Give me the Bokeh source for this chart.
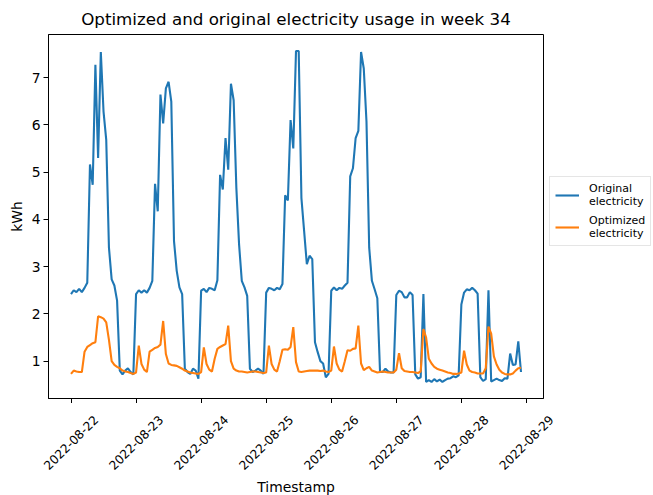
from math import pi

import pandas as pd
from bokeh.embed import file_html
from bokeh.layouts import column, row
from bokeh.models import (ColumnDataSource, DatetimeAxis, FixedTicker, Legend, LegendItem,
                          Range1d)
from bokeh.plotting import figure
from bokeh.resources import INLINE

# Hourly electricity usage (kWh), one list per day, starting 2022-08-22 00:00
orig_0822 = [2.42, 2.50, 2.46, 2.53, 2.46, 2.55, 2.66, 5.16, 4.73, 7.27, 5.30, 7.54,
             6.28, 5.68, 3.40, 2.73, 2.60, 2.28, 0.80, 0.72, 0.80, 0.85, 0.77, 0.72]
orig_0823 = [2.42, 2.50, 2.45, 2.50, 2.45, 2.55, 2.70, 4.75, 4.17, 6.64, 6.03, 6.77,
             6.91, 6.49, 3.54, 2.91, 2.56, 2.42, 0.84, 0.77, 0.73, 0.84, 0.80, 0.63]
orig_0824 = [2.49, 2.53, 2.46, 2.55, 2.53, 2.50, 2.71, 4.94, 4.63, 5.72, 5.05, 6.87,
             6.52, 4.66, 3.47, 2.70, 2.56, 2.38, 0.84, 0.77, 0.80, 0.84, 0.80, 0.73]
orig_0825 = [2.45, 2.55, 2.53, 2.50, 2.55, 2.52, 2.63, 4.51, 4.40, 6.10, 5.50, 7.56,
             7.56, 4.45, 3.75, 3.05, 3.23, 3.16, 1.40, 1.19, 1.00, 0.95, 0.66, 0.73]
orig_0826 = [2.49, 2.56, 2.50, 2.55, 2.53, 2.60, 2.66, 4.91, 5.08, 5.72, 5.87, 7.54,
             7.19, 6.07, 3.40, 2.70, 2.52, 2.33, 0.77, 0.77, 0.84, 0.78, 0.76, 0.76]
orig_0827 = [2.40, 2.49, 2.46, 2.35, 2.35, 2.46, 2.40, 0.72, 0.63, 0.66, 2.42, 0.56,
             0.60, 0.56, 0.62, 0.57, 0.61, 0.56, 0.60, 0.63, 0.64, 0.68, 0.66, 0.70]
orig_0828 = [2.20, 2.45, 2.52, 2.50, 2.55, 2.50, 2.43, 0.66, 0.58, 0.62, 2.50, 0.57,
             0.60, 0.63, 0.60, 0.58, 0.64, 0.63, 1.16, 0.92, 0.93, 1.42, 0.77]

opt_0822 = [0.73, 0.80, 0.78, 0.77, 0.77, 1.20, 1.30, 1.34, 1.38, 1.40, 1.95, 1.93,
            1.90, 1.82, 1.45, 1.00, 0.92, 0.88, 0.85, 0.80, 0.78, 0.77, 0.75, 0.73]
opt_0823 = [0.76, 1.33, 0.94, 0.82, 0.77, 1.20, 1.24, 1.28, 1.30, 1.35, 1.85, 1.15,
            0.95, 0.92, 0.91, 0.90, 0.87, 0.84, 0.80, 0.78, 0.76, 0.75, 0.74, 0.73]
opt_0824 = [0.77, 1.29, 0.94, 0.82, 0.78, 1.05, 1.26, 1.30, 1.33, 1.36, 1.75, 1.00,
            0.84, 0.80, 0.78, 0.78, 0.77, 0.76, 0.77, 0.78, 0.78, 0.77, 0.76, 0.75]
opt_0825 = [0.76, 1.33, 0.94, 0.82, 0.78, 1.00, 1.24, 1.25, 1.24, 1.30, 1.72, 0.98,
            0.78, 0.77, 0.78, 0.79, 0.80, 0.80, 0.80, 0.80, 0.79, 0.80, 0.78, 0.77]
opt_0826 = [0.80, 1.31, 0.95, 0.82, 0.78, 1.00, 1.23, 1.22, 1.26, 1.27, 1.75, 0.95,
            0.81, 0.85, 0.88, 0.80, 0.78, 0.76, 0.77, 0.78, 0.77, 0.76, 0.76, 0.76]
opt_0827 = [0.82, 1.17, 0.85, 0.79, 0.78, 0.77, 0.77, 0.76, 0.75, 0.78, 1.68, 1.50,
            1.05, 0.95, 0.88, 0.84, 0.82, 0.80, 0.78, 0.76, 0.75, 0.73, 0.73, 0.74]
opt_0828 = [0.76, 1.22, 0.93, 0.80, 0.77, 0.76, 0.74, 0.74, 0.74, 0.85, 1.73, 1.58,
            1.10, 0.93, 0.82, 0.76, 0.73, 0.72, 0.72, 0.74, 0.80, 0.85, 0.86]

tick_labels = ["2022-08-22", "2022-08-23", "2022-08-24", "2022-08-25",
               "2022-08-26", "2022-08-27", "2022-08-28", "2022-08-29"]
y_ticks = [1, 2, 3, 4, 5, 6, 7]

original = orig_0822 + orig_0823 + orig_0824 + orig_0825 + orig_0826 + orig_0827 + orig_0828
optimized = opt_0822 + opt_0823 + opt_0824 + opt_0825 + opt_0826 + opt_0827 + opt_0828
timestamps = pd.date_range("2022-08-22 00:00", periods=len(original), freq="h")

source = ColumnDataSource(dict(ts=timestamps, original=original, optimized=optimized))

FONT = "DejaVu Sans"
BLUE, ORANGE = "#1f77b4", "#ff7f0e"
FRAME_W, FRAME_H = 495, 364
LEFT, TOP, TICK = 48, 33, 5
LABEL_SHIFT = 25  # px: centres each rotated date under its tick


def to_ms(t):
    return pd.Timestamp(t).value / 1e6


# axis limits with a 5% margin around the data, like matplotlib's autoscale
t0, t1 = to_ms(timestamps[0]), to_ms(timestamps[-1])
x_pad = 0.05 * (t1 - t0)
xs, xe = t0 - x_pad, t1 + x_pad
lo = min(min(original), min(optimized))
hi = max(max(original), max(optimized))
y_pad = 0.05 * (hi - lo)

tick_ms = [to_ms(d) for d in tick_labels]


def no_grid(fig):
    fig.xgrid.grid_line_color = None
    fig.ygrid.grid_line_color = None


# ---- main plot -------------------------------------------------------------
p = figure(
    frame_width=FRAME_W, frame_height=FRAME_H,
    x_axis_type="datetime",
    x_range=Range1d(xs, xe),
    y_range=Range1d(lo - y_pad, hi + y_pad),
    title="Optimized and original electricity usage in week 34",
    output_backend="svg", toolbar_location=None,
    min_border_left=LEFT, min_border_right=2, min_border_top=TOP, min_border_bottom=TICK,
    background_fill_color="white", border_fill_color="white",
)
no_grid(p)

p.title.text_font = FONT
p.title.text_font_size = "16.7px"
p.title.text_font_style = "normal"
p.title.text_color = "black"
p.title.align = "center"
p.title.standoff = 12

p.outline_line_color = "black"
p.outline_line_width = 1
p.outline_line_alpha = 1

for ax in (p.xaxis[0], p.yaxis[0]):
    ax.axis_line_color = "black"
    ax.major_tick_line_color = "black"
    ax.major_tick_out = TICK
    ax.major_tick_in = 0
    ax.minor_tick_line_color = None
    ax.major_label_text_font = FONT
    ax.major_label_text_font_size = "13.9px"
    ax.major_label_text_color = "black"
    ax.axis_label_text_font = FONT
    ax.axis_label_text_font_size = "13.9px"
    ax.axis_label_text_font_style = "normal"
    ax.axis_label_text_color = "black"

p.yaxis.ticker = FixedTicker(ticks=y_ticks)
p.yaxis.axis_label = "kWh"
p.yaxis.major_label_standoff = 3
p.yaxis.axis_label_standoff = 4

# tick marks only; the dates are drawn by the axis of the strip below
p.xaxis.ticker = FixedTicker(ticks=tick_ms)
p.xaxis.major_label_overrides = {t: "" for t in tick_ms}
p.xaxis.major_label_text_font_size = "0px"
p.xaxis.major_label_standoff = 0

r_orig = p.line("ts", "original", source=source, line_color=BLUE, line_width=2.1)
r_opt = p.line("ts", "optimized", source=source, line_color=ORANGE, line_width=2.1)

main_h = TOP + FRAME_H + TICK
main_w = LEFT + FRAME_W + 2

# ---- legend column to the right of the frame ------------------------------
lg = figure(
    width=653 - main_w, height=main_h,
    x_range=Range1d(0, 1), y_range=Range1d(0, 1),
    x_axis_location=None, y_axis_location=None,
    output_backend="svg", toolbar_location=None,
    min_border=0, outline_line_color=None,
    background_fill_color="white", border_fill_color="white",
)
no_grid(lg)
# legend keys: same line styles as the series, kept outside this panel's view
key_orig = lg.line([2, 3], [2, 2], line_color=BLUE, line_width=2.1)
key_opt = lg.line([2, 3], [2, 2], line_color=ORANGE, line_width=2.1)

legend = Legend(
    items=[
        LegendItem(label="Original\nelectricity", renderers=[key_orig]),
        LegendItem(label="Optimized\nelectricity", renderers=[key_opt]),
    ],
    location=(4, main_h - 251),
    margin=0, padding=5, spacing=6,
    glyph_width=24, glyph_height=20, label_standoff=10,
    label_text_font=FONT, label_text_font_size="11px", label_text_line_height=1.27,
    label_text_color="black",
    border_line_color="#cccccc", border_line_width=1,
    background_fill_color="white", background_fill_alpha=0.8,
)
lg.add_layout(legend, "center")

# ---- date labels and x-axis title under the frame -------------------------
px_per_ms = FRAME_W / (xe - xs)
dt = LABEL_SHIFT / px_per_ms
strip = figure(
    frame_width=FRAME_W + 2 * LABEL_SHIFT, frame_height=1,
    x_range=Range1d(xs - dt, xe + dt), y_range=Range1d(0, 1),
    x_axis_location=None, y_axis_location=None,
    output_backend="svg", toolbar_location=None,
    min_border_left=LEFT - LABEL_SHIFT, min_border_right=0,
    min_border_top=0, min_border_bottom=0,
    outline_line_color=None,
    background_fill_color="white", border_fill_color="white",
)
no_grid(strip)
strip.extra_x_ranges = {"dates": Range1d(xs - 2 * dt, xe)}
date_axis = DatetimeAxis(
    x_range_name="dates",
    ticker=FixedTicker(ticks=tick_ms),
    major_label_overrides={t: lab for t, lab in zip(tick_ms, tick_labels)},
    major_label_orientation=pi / 4,
    major_label_standoff=13,
    major_label_text_font=FONT, major_label_text_font_size="12.2px",
    major_label_text_color="black",
    axis_line_color=None, major_tick_line_color=None, minor_tick_line_color=None,
    major_tick_out=0, major_tick_in=0,
    axis_label="Timestamp", axis_label_standoff=2,
    axis_label_text_font=FONT, axis_label_text_font_size="13.9px",
    axis_label_text_font_style="normal", axis_label_text_color="black",
)
strip.add_layout(date_axis, "below")

layout = column(row(p, lg), strip)
open("out.html", "w").write(file_html(layout, INLINE))
